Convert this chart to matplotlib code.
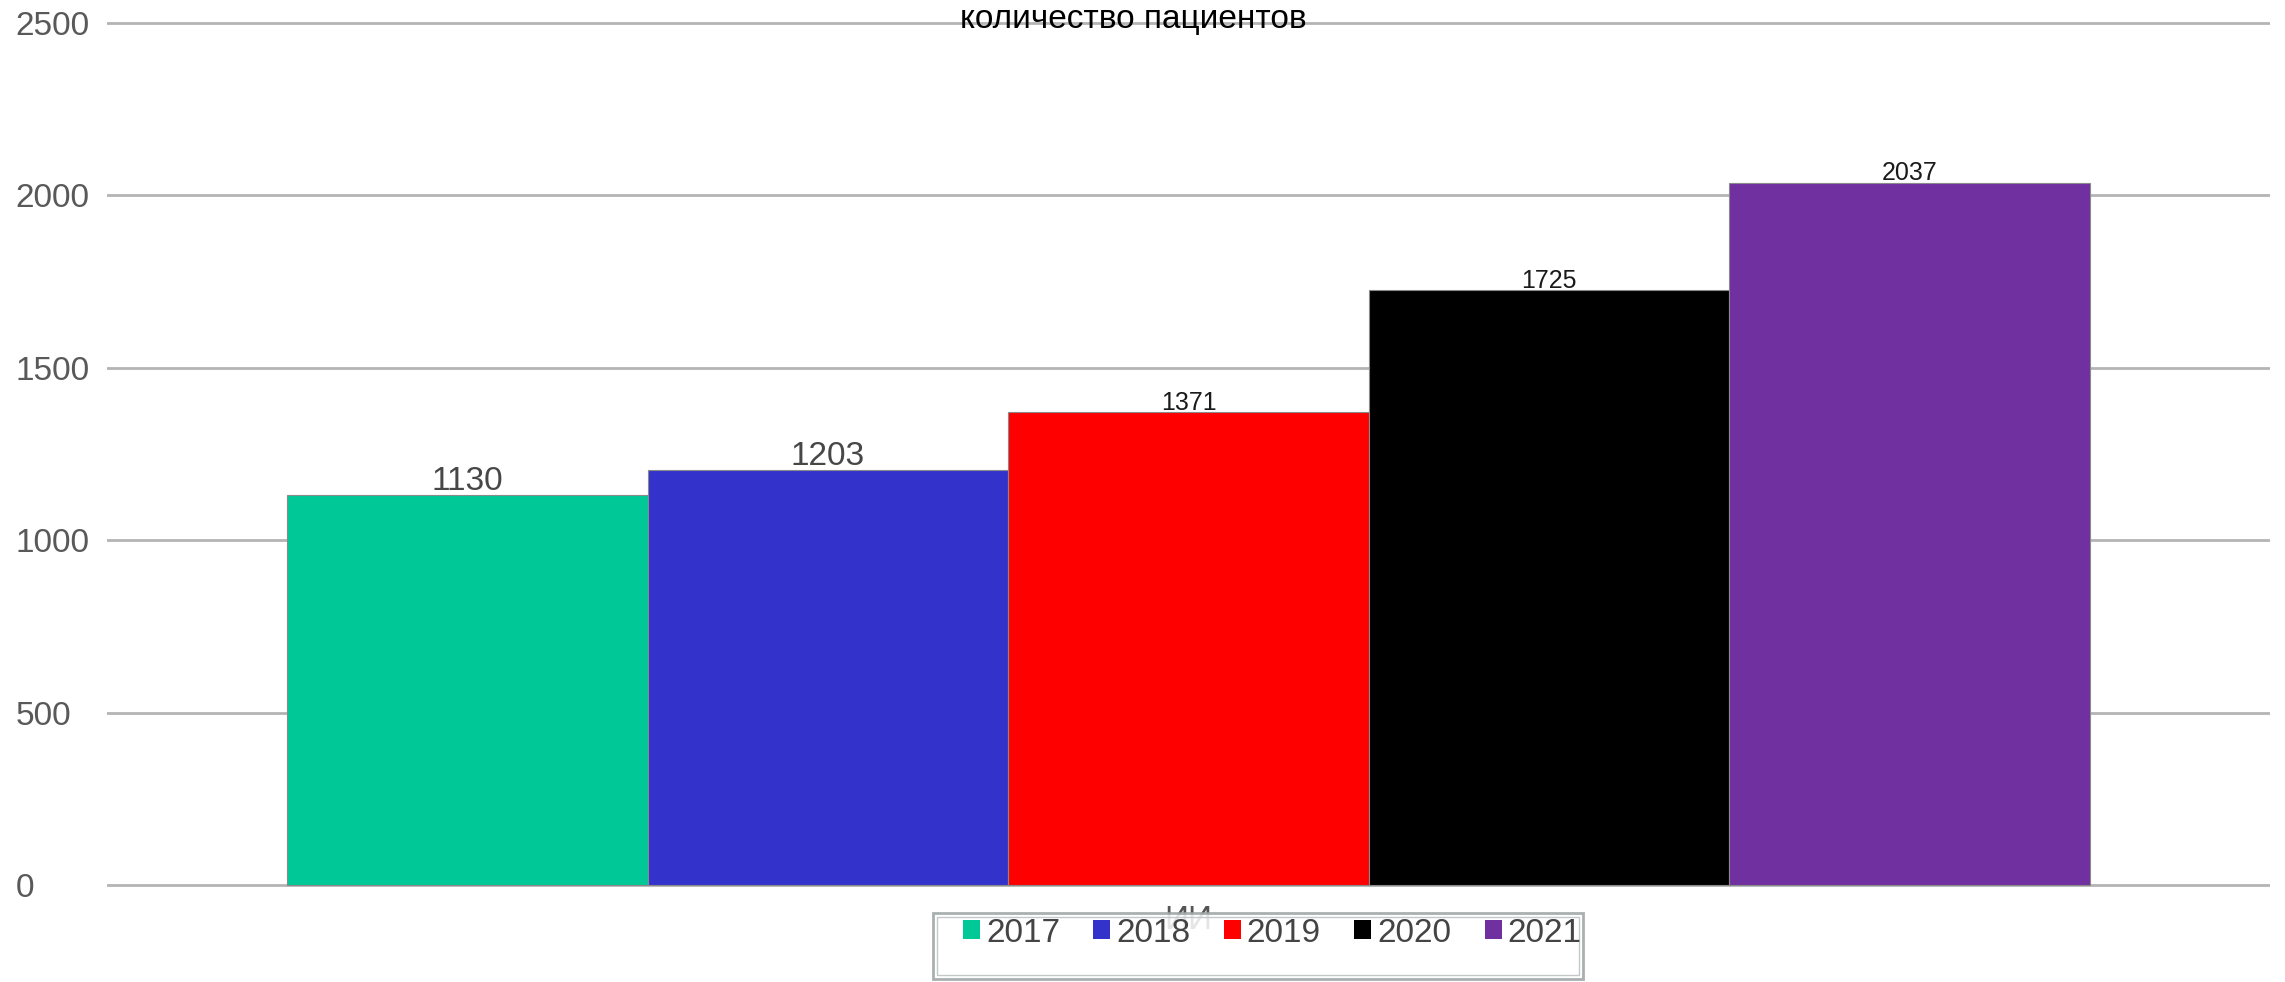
import numpy as np
import matplotlib
matplotlib.use('Agg')
import matplotlib.pyplot as plt
from matplotlib.patches import Rectangle

plt.rcParams['font.family'] = ['Liberation Sans', 'DejaVu Sans']

# data
years = ['2017', '2018', '2019', '2020', '2021']
counts = [1130, 1203, 1371, 1725, 2037]
bar_colors = ['#00c896', '#3333cc', '#ff0000', '#000000', '#7030a0']
category = 'ИИ'
title = 'количество пациентов'
yticks = [0, 500, 1000, 1500, 2000, 2500]

W, H = 2285, 982
fig = plt.figure(figsize=(W / 100, H / 100), dpi=100)

# axes placement in pixels (y0 = value 0, y1 = value 2500)
x_left, x_right = 107, 2270
y0_px, y1_px = 885, 23
pad_units = 30
ppu = (y0_px - y1_px) / 2500.0
bot_px = y0_px + pad_units * ppu
top_px = y1_px - pad_units * ppu
ax = fig.add_axes([x_left / W, 1 - bot_px / H, (x_right - x_left) / W, (bot_px - top_px) / H])

x = np.arange(len(years))
bars = ax.bar(x, counts, width=1.0, color=bar_colors, edgecolor='#8a8a8a',
              linewidth=0.8, label=years, zorder=3)

# value labels: first two larger grey, rest smaller black
for i, (b, v) in enumerate(zip(bars, counts)):
    cx = b.get_x() + b.get_width() / 2
    if i < 2:
        ax.annotate(str(v), (cx, v), xytext=(0, -1), textcoords='offset points',
                    ha='center', va='bottom', fontsize=24, color='#474747')
    else:
        ax.annotate(str(v), (cx, v), xytext=(0, -2), textcoords='offset points',
                    ha='center', va='bottom', fontsize=18, color='#1a1a1a')

ax.set_xlim(-1.0, 5.0)
ax.set_ylim(-pad_units, 2500 + pad_units)
ax.set_yticks(yticks)
ax.set_yticklabels([str(t) for t in yticks])
ax.set_xticks([2])
ax.set_xticklabels([category])
ax.tick_params(axis='y', length=0, pad=66, labelsize=24, labelcolor='#595959')
for lab in ax.get_yticklabels():
    lab.set_horizontalalignment('left')
ax.tick_params(axis='x', length=0, pad=7, labelsize=24, labelcolor='#555555')
ax.grid(axis='y', color='#b4b4b4', linewidth=2.0, zorder=0)
ax.set_axisbelow(True)
for s in ax.spines.values():
    s.set_visible(False)

fig.text(1133 / W, 1 - 28 / H, title, ha='center', va='baseline', fontsize=24, color='black')

# legend box (double border) drawn over the category label
fig.patches.append(Rectangle((933 / W, 1 - 979 / H), 650 / W, 66 / H, transform=fig.transFigure,
                             facecolor='white', alpha=0.85, edgecolor='#9aa2a2', linewidth=2.0, zorder=1))
fig.patches.append(Rectangle((937 / W, 1 - 975 / H), 642 / W, 58 / H, transform=fig.transFigure,
                             facecolor='none', edgecolor='#c4c8c8', linewidth=1.0, zorder=1))
leg = fig.legend(handles=list(bars), labels=years, loc='center left',
                 bbox_to_anchor=(963 / W, 1 - 933 / H), ncol=5, frameon=False,
                 fontsize=24, handlelength=0.51, handleheight=0.51, handletextpad=0.18,
                 columnspacing=1.0, borderpad=0, borderaxespad=0)
for t in leg.get_texts():
    t.set_color('#444444')
for h in leg.legend_handles:
    h.set_edgecolor('none')

plt.savefig('out.png', dpi=100)
